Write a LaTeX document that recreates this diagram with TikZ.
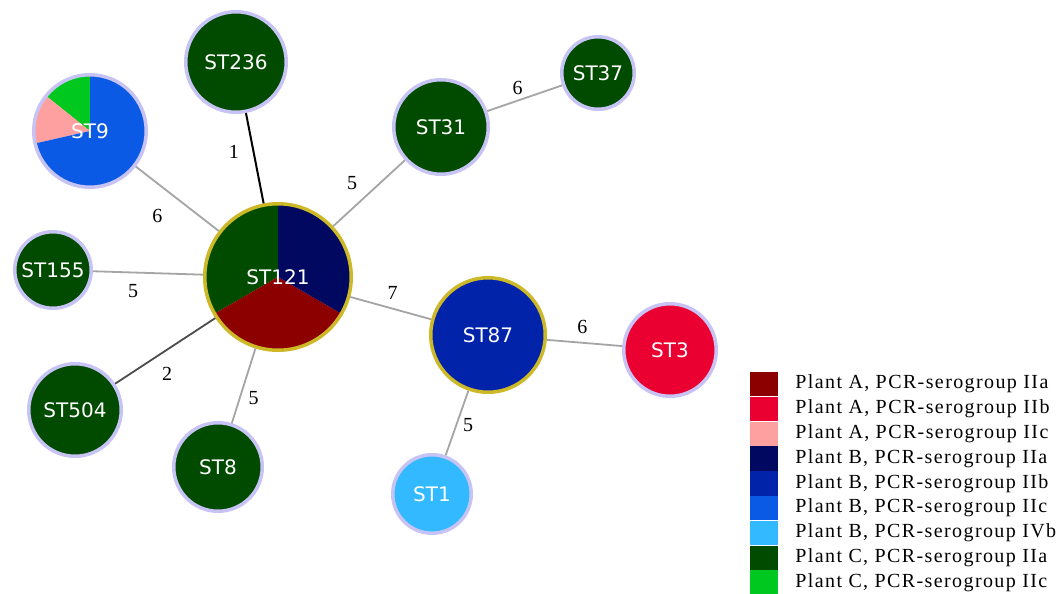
\documentclass[tikz,border=0pt]{standalone}
\usepackage{fontspec}
\setmainfont{Liberation Serif}
\newfontfamily\stfont{DejaVu Sans}
\newfontfamily\keyfont[LetterSpace=7]{Liberation Serif}
\usetikzlibrary{positioning}

\definecolor{pAIIa}{RGB}{140,0,0}
\definecolor{pAIIb}{RGB}{235,0,50}
\definecolor{pAIIc}{RGB}{255,160,160}
\definecolor{pBIIa}{RGB}{0,8,95}
\definecolor{pBIIb}{RGB}{0,35,170}
\definecolor{pBIIc}{RGB}{10,90,230}
\definecolor{pBIVb}{RGB}{50,185,255}
\definecolor{pCIIa}{RGB}{0,75,0}
\definecolor{pCIIc}{RGB}{0,200,30}
\definecolor{rimlav}{RGB}{200,195,245}
\definecolor{rimgold}{RGB}{205,185,40}
\definecolor{linkgray}{RGB}{165,165,165}

\begin{document}
\begin{tikzpicture}[x=1pt,y=1pt,
  st/.style={circle, draw=rimlav, line width=3.5pt, inner sep=0pt,
    text=white, font=\stfont\fontsize{20}{24}\selectfont},
  core/.style={st, draw=rimgold},
  link/.style={linkgray, line width=1.8pt},
  dist/.style={text=black, font=\fontsize{20}{24}\selectfont, inner sep=0pt},
  swatch/.style={minimum width=28pt, minimum height=24.4pt, inner sep=0pt},
  key/.style={right=17pt of #1, inner sep=0pt, font=\keyfont\fontsize{20}{24}\selectfont}]
\useasboundingbox[fill=white] (0,0) rectangle (1063,-594);

% sequence types
\node[core, minimum size=146.5pt, path picture={
  \fill[pCIIa] (path picture bounding box.center) -- ++(90:80pt)
    arc[start angle=90, end angle=210, radius=80pt] -- cycle;
  \fill[pAIIa] (path picture bounding box.center) -- ++(210:80pt)
    arc[start angle=210, end angle=330, radius=80pt] -- cycle;
  \fill[pBIIa] (path picture bounding box.center) -- ++(330:80pt)
    arc[start angle=330, end angle=450, radius=80pt] -- cycle;
  }] (st121) at (278,-277) {ST121};
\node[st, minimum size=112.5pt, path picture={
  \fill[pCIIc] (path picture bounding box.center) -- ++(90:62pt)
    arc[start angle=90, end angle=141.4, radius=62pt] -- cycle;
  \fill[pAIIc] (path picture bounding box.center) -- ++(141.4:62pt)
    arc[start angle=141.4, end angle=192.8, radius=62pt] -- cycle;
  \fill[pBIIc] (path picture bounding box.center) -- ++(192.8:62pt)
    arc[start angle=192.8, end angle=450, radius=62pt] -- cycle;
  }] (st9) at (90,-131) {ST9};
\node[st, fill=pCIIa, minimum size=100.5pt] (st236) at (236,-62) {ST236};
\node[st, fill=pCIIa, minimum size=94.5pt] (st31) at (441,-127) {ST31};
\node[st, fill=pCIIa, minimum size=72.5pt] (st37) at (598,-73) {ST37};
\node[st, fill=pCIIa, minimum size=76.5pt] (st155) at (53,-270) {ST155};
\node[st, fill=pCIIa, minimum size=92.5pt] (st504) at (75,-410) {ST504};
\node[st, fill=pCIIa, minimum size=88.5pt] (st8) at (218,-467) {ST8};
\node[core, fill=pBIIb, minimum size=114.5pt] (st87) at (488,-335) {ST87};
\node[st, fill=pAIIb, minimum size=92.5pt] (st3) at (670,-350) {ST3};
\node[st, fill=pBIVb, minimum size=78.5pt] (st1) at (432,-494) {ST1};

% allelic distances
\draw[line width=2pt, black]
(st121) -- node[dist, midway, xshift=-21, yshift=6] {1} (st236);
\draw[link]
(st121) -- node[dist, midway, xshift=-20, yshift=-17] {6} (st9);
\draw[link]
(st121) -- node[dist, midway, xshift=-15, yshift=-18] {5} (st155);
\draw[line width=1.8pt, black!70]
(st121) -- node[dist, midway, xshift=2, yshift=-23] {2} (st504);
\draw[link]
(st121) -- node[dist, midway, xshift=10, yshift=-12] {5} (st8);
\draw[link]
(st121) -- node[dist, midway, xshift=-17, yshift=10] {5} (st31);
\draw[link]
(st31) -- node[dist, midway, xshift=-7, yshift=10] {6} (st37);
\draw[link]
(st121) -- node[dist, midway, xshift=2, yshift=15] {7} (st87);
\draw[link]
(st87) -- node[dist, midway, xshift=-2, yshift=16] {6} (st3);
\draw[link]
(st87) -- node[dist, midway, xshift=11, yshift=-2] {5} (st1);

% legend
\node[swatch, fill=pAIIa] (kAIIa) at (764,-384.2) {};
\node[swatch, fill=pAIIb, below=0pt of kAIIa] (kAIIb) {};
\node[swatch, fill=pAIIc, below=0pt of kAIIb] (kAIIc) {};
\node[swatch, fill=pBIIa, below=0pt of kAIIc] (kBIIa) {};
\node[swatch, fill=pBIIb, below=0pt of kBIIa] (kBIIb) {};
\node[swatch, fill=pBIIc, below=0pt of kBIIb] (kBIIc) {};
\node[swatch, fill=pBIVb, below=0pt of kBIIc] (kBIVb) {};
\node[swatch, fill=pCIIa, below=0pt of kBIVb] (kCIIa) {};
\node[swatch, fill=pCIIc, below=0pt of kCIIa] (kCIIc) {};
\node[key=kAIIa] {Plant A, PCR-serogroup IIa};
\node[key=kAIIb] {Plant A, PCR-serogroup IIb};
\node[key=kAIIc] {Plant A, PCR-serogroup IIc};
\node[key=kBIIa] {Plant B, PCR-serogroup IIa};
\node[key=kBIIb] {Plant B, PCR-serogroup IIb};
\node[key=kBIIc] {Plant B, PCR-serogroup IIc};
\node[key=kBIVb] {Plant B, PCR-serogroup IVb};
\node[key=kCIIa] {Plant C, PCR-serogroup IIa};
\node[key=kCIIc] {Plant C, PCR-serogroup IIc};
\end{tikzpicture}
\end{document}
